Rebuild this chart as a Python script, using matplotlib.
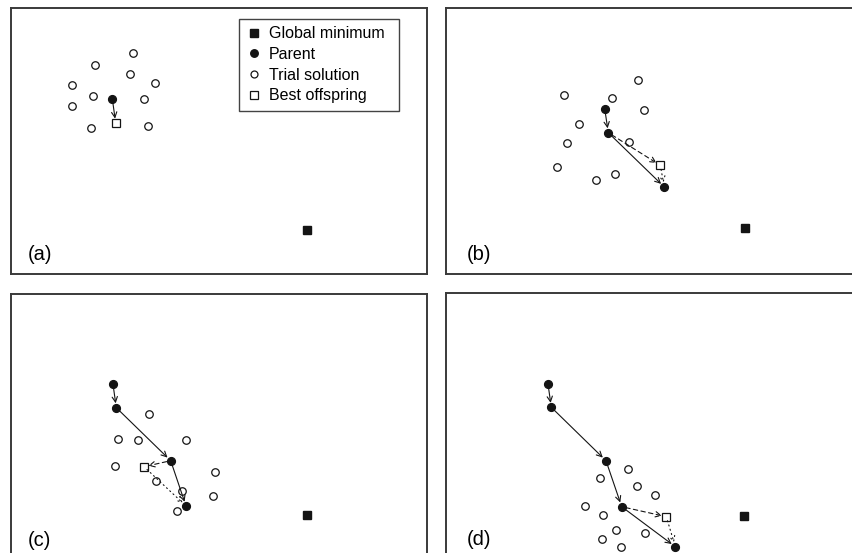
"""
Four-panel sketch of a parent/offspring search walking towards the global minimum.
"""

import matplotlib
matplotlib.use('Agg')
import matplotlib.pyplot as plt
from matplotlib.lines import Line2D

plt.rcParams['font.family'] = ['Liberation Sans', 'DejaVu Sans']

# Panel coordinates (x to the right, y downward)
trial_a = [(121.7, 45.3), (84, 56.7), (119, 66), (144.3, 74.7), (60.7, 77),
           (82, 88), (132.7, 90.7), (60.7, 98), (79.7, 120), (136.7, 117.7)]
parents_a = [(101.3, 90.7)]
best_a = (104.7, 115)
gmin_a = (296.3, 222)

trial_b = [(191.7, 72), (117.7, 86.7), (166, 90.3), (198, 102.3), (133, 115.7),
           (121.3, 134.7), (182.7, 134.3), (110.7, 159), (150.3, 172.3),
           (169.3, 166.3)]
parents_b = [(158.7, 100.7), (162.3, 124.7), (218.3, 179)]
best_b = (214.3, 157.3)
gmin_b = (299.3, 220.3)

trial_c = [(138, 120.3), (107.3, 145), (127, 145.7), (175, 146.3), (103.7, 172.3),
           (204, 178), (145, 187.3), (170.7, 196.7), (201.7, 202.3), (166.3, 217)]
parents_c = [(102, 90.3), (105.3, 113.7), (159.7, 166.7), (175, 212)]
best_c = (133, 172.7)
gmin_c = (296.3, 221.3)

trial_d = [(181.7, 176.3), (153.7, 184.7), (191, 192.7), (209, 202.3),
           (139, 213.3), (157.3, 222), (170, 237), (199.3, 239.7),
           (155.7, 246), (174.7, 254)]
parents_d = [(102, 91), (105.3, 114.3), (160, 167.7), (175.7, 213.7),
             (229.3, 253.7)]
best_d = (220.3, 223.7)
gmin_d = (298.3, 223)

panel_labels = ['(a)', '(b)', '(c)', '(d)']
legend_labels = ['Global minimum', 'Parent', 'Trial solution', 'Best offspring']

INK = '#141414'
FIG_W, FIG_H = 853, 553
PANEL_W, PANEL_H = 416, 266


def add_arrow(ax, start, end, ls='-'):
    ax.annotate(
        '', xy=end, xytext=start,
        arrowprops=dict(arrowstyle='->', color=INK, lw=0.8, linestyle=ls,
                        shrinkA=3, shrinkB=3.2, mutation_scale=9.5),
    )


def draw_panel(ax, trial, parents, best, gmin, label, label_x):
    tx, ty = zip(*trial)
    ax.plot(tx, ty, 'o', ms=5.4, mfc='white', mec=INK, mew=0.9, ls='none')
    # Walk of accepted parents
    for p0, p1 in zip(parents[:-1], parents[1:]):
        add_arrow(ax, p0, p1, '-')
    if len(parents) == 1:
        add_arrow(ax, parents[0], best, '-')
    else:
        add_arrow(ax, parents[-2], best, (0, (4, 3)))
        add_arrow(ax, best, parents[-1], (0, (1, 3)))
    px, py = zip(*parents)
    ax.plot(px, py, 'o', ms=5.6, color=INK, ls='none')
    ax.plot(*best, 's', ms=6, mfc='white', mec=INK, mew=0.9)
    ax.plot(*gmin, 's', ms=6, color=INK)

    ax.text(label_x, 246.5, label, fontsize=14.5, ha='left', va='center')
    ax.set_xlim(0, PANEL_W)
    ax.set_ylim(PANEL_H, 0)
    ax.set_xticks([])
    ax.set_yticks([])
    for spine in ax.spines.values():
        spine.set_linewidth(1.4)
        spine.set_color('#3a3a3a')


def main():
    fig = plt.figure(figsize=(FIG_W / 100, FIG_H / 100), dpi=100)
    # left / top pixel of each panel box
    corners = [(11, 8), (446, 8), (11, 294), (446, 293)]
    data = [
        (trial_a, parents_a, best_a, gmin_a),
        (trial_b, parents_b, best_b, gmin_b),
        (trial_c, parents_c, best_c, gmin_c),
        (trial_d, parents_d, best_d, gmin_d),
    ]
    label_xs = [17, 20.5, 17, 20.5]
    axs = []
    for (left, top), d, lab, lx in zip(corners, data, panel_labels, label_xs):
        ax = fig.add_axes([left / FIG_W, (FIG_H - top - PANEL_H) / FIG_H,
                           PANEL_W / FIG_W, PANEL_H / FIG_H])
        draw_panel(ax, *d, lab, lx)
        axs.append(ax)

    handles = [
        Line2D([], [], ls='none', marker='s', ms=5.6, color=INK),
        Line2D([], [], ls='none', marker='o', ms=5.4, color=INK),
        Line2D([], [], ls='none', marker='o', ms=5.0, mfc='white', mec=INK, mew=0.9),
        Line2D([], [], ls='none', marker='s', ms=5.4, mfc='white', mec=INK, mew=0.9),
    ]
    leg = axs[0].legend(
        handles, legend_labels, loc='upper left', mode='expand',
        bbox_to_anchor=(228 / PANEL_W, 0, 160 / PANEL_W, 1 - 11 / PANEL_H),
        borderaxespad=0, fontsize=11.5, frameon=True, fancybox=False,
        edgecolor=INK, handlelength=0.92, handletextpad=0.48,
        labelspacing=0.36, borderpad=0.45,
    )
    leg.get_frame().set_linewidth(1.0)

    fig.savefig('out.png', dpi=100)
    plt.close(fig)


if __name__ == '__main__':
    main()
